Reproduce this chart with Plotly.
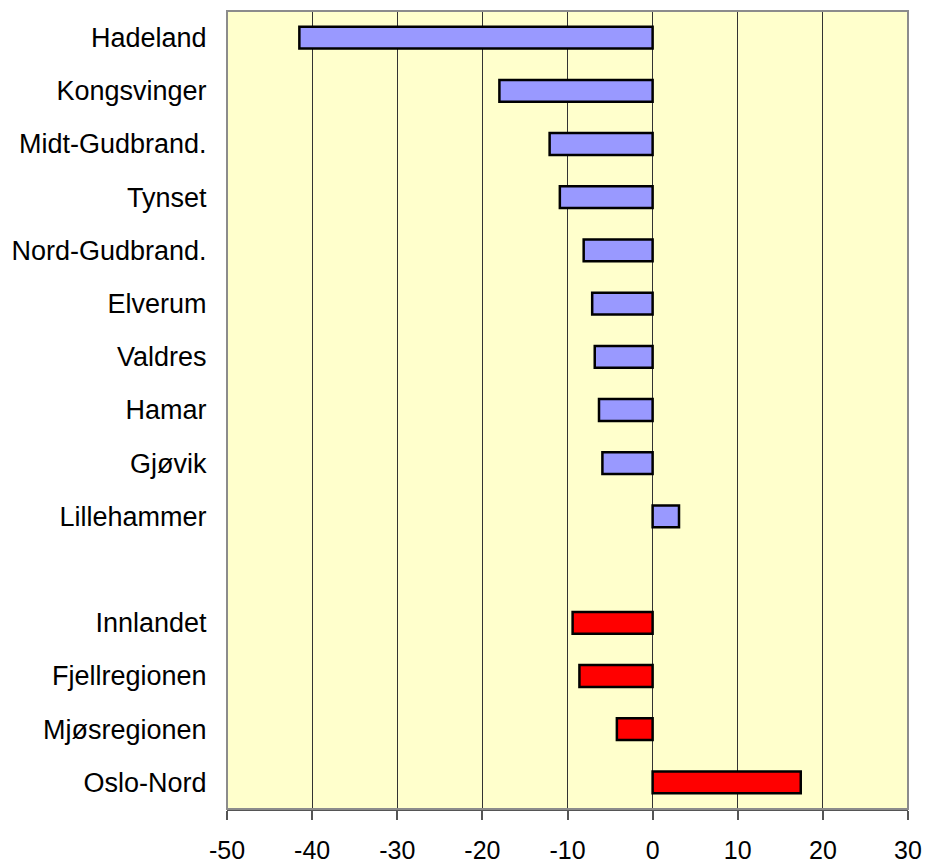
import plotly.graph_objects as go

regions = ["Hadeland", "Kongsvinger", "Midt-Gudbrand.", "Tynset", "Nord-Gudbrand.",
           "Elverum", "Valdres", "Hamar", "Gjøvik", "Lillehammer"]
region_values = [-41.5, -18.0, -12.1, -10.9, -8.1, -7.1, -6.8, -6.3, -5.9, 3.1]

aggregates = ["Innlandet", "Fjellregionen", "Mjøsregionen", "Oslo-Nord"]
aggregate_values = [-9.4, -8.6, -4.2, 17.4]

spacer = " "
categories = regions + [spacer] + aggregates

x_ticks = [-50, -40, -30, -20, -10, 0, 10, 20, 30]

fig = go.Figure()
fig.add_trace(go.Bar(
    y=regions, x=region_values, orientation="h",
    marker=dict(color="#9999FF", line=dict(color="black", width=2.5)),
    width=0.41, showlegend=False,
))
fig.add_trace(go.Bar(
    y=aggregates, x=aggregate_values, orientation="h",
    marker=dict(color="#FF0000", line=dict(color="black", width=2.5)),
    width=0.41, showlegend=False,
))

fig.update_layout(
    width=927, height=863,
    margin=dict(l=227, r=19, t=11, b=54, autoexpand=False),
    paper_bgcolor="white",
    plot_bgcolor="#FFFFCC",
    font=dict(family="Liberation Sans, Arial, sans-serif", size=26, color="black"),
    barmode="overlay",
    shapes=[dict(type="rect", xref="paper", yref="paper", x0=0, x1=1, y0=0, y1=1,
                 line=dict(color="#8c8c8c", width=2), layer="above")],
)
fig.update_xaxes(
    automargin=False,
    range=[-50, 30], tickvals=x_ticks, ticktext=[str(v) for v in x_ticks],
    tickfont=dict(size=25),
    showgrid=True, gridcolor="#333333", gridwidth=1,
    zeroline=False,
    showline=True, linecolor="#555555", linewidth=2,
    ticks="outside", ticklen=9, tickcolor="#555555", tickwidth=1.5,
    ticklabelstandoff=9,
)
fig.update_yaxes(
    automargin=False,
    categoryorder="array", categoryarray=categories, autorange="reversed",
    tickfont=dict(size=27),
    showgrid=False, zeroline=False, showline=False,
    ticks="outside", ticklen=14, tickcolor="rgba(0,0,0,0)",
)

fig.write_html("out.html", config={"displayModeBar": False})

with open("out.html", "r", encoding="utf-8") as f:
    html = f.read()
html = html.replace("<body>", '<body style="margin:0;padding:0;overflow:hidden">', 1)
with open("out.html", "w", encoding="utf-8") as f:
    f.write(html)
